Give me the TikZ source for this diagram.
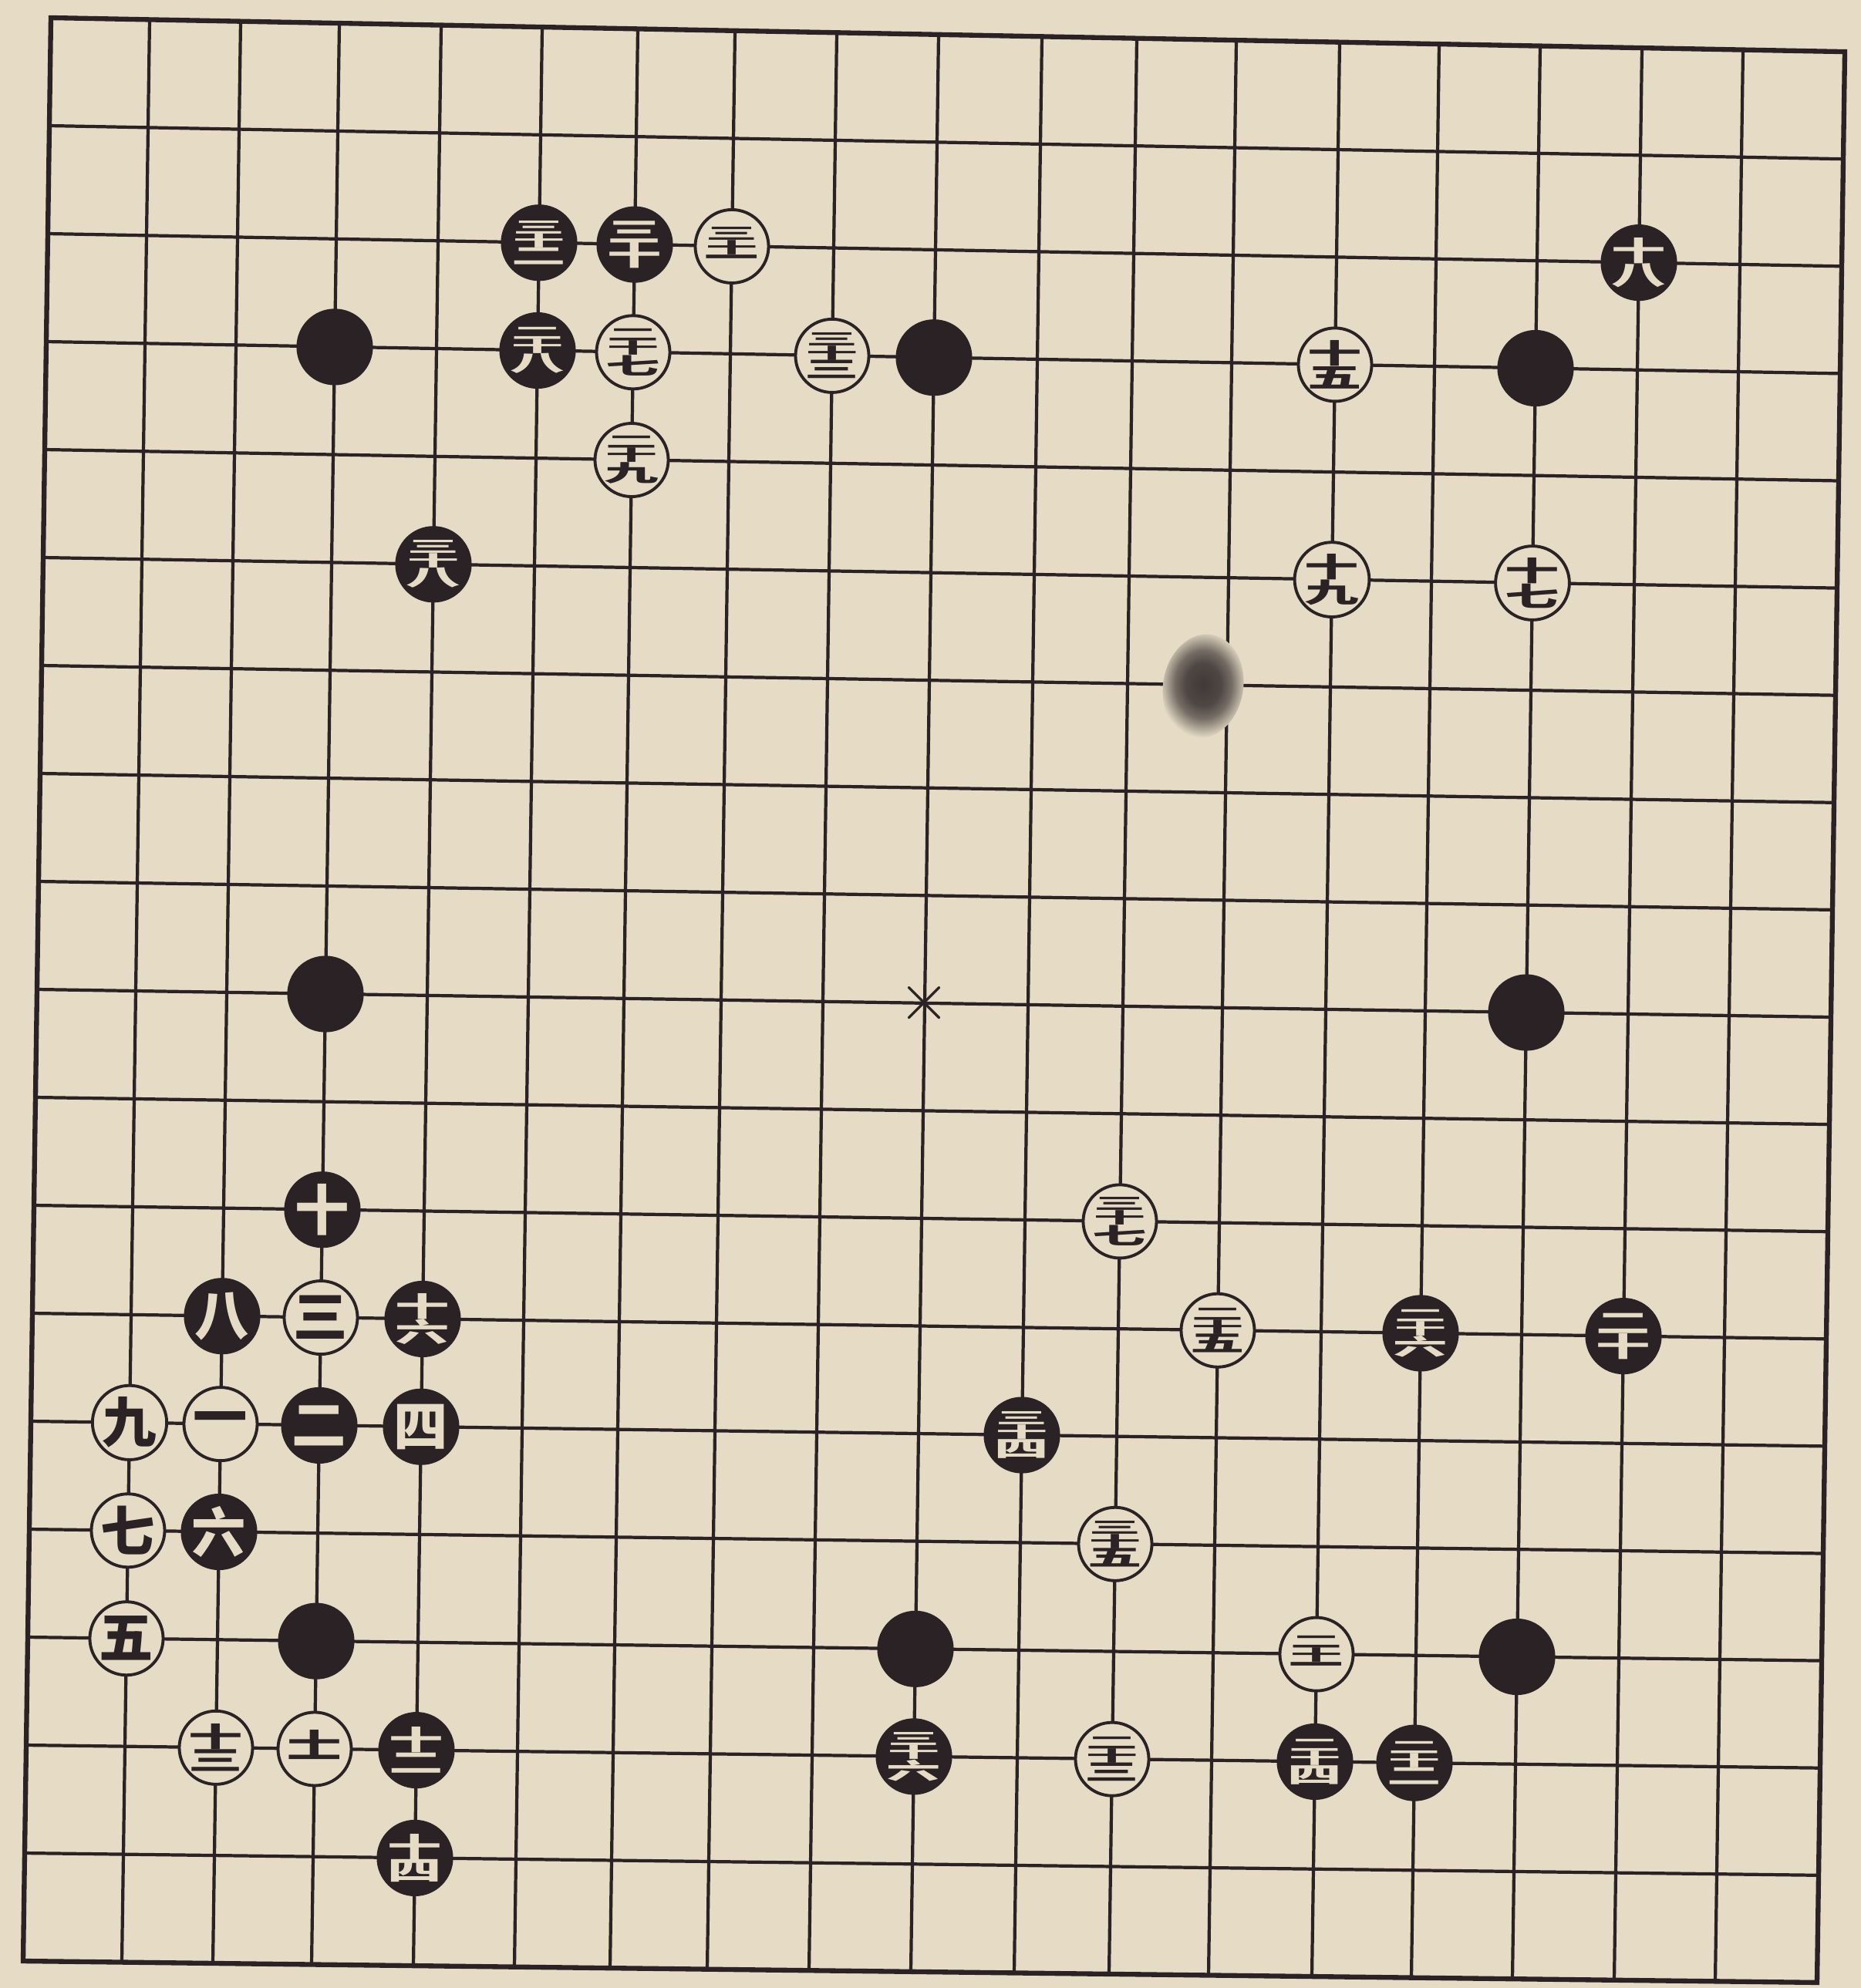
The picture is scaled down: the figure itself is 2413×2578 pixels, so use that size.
\documentclass[tikz,border=0pt]{standalone}
\usepackage{fontspec}
\usepackage{graphicx}
\newfontfamily\cjk{Noto Sans CJK SC}
\definecolor{paper}{HTML}{E6DCC6}
\definecolor{ink}{HTML}{2A2224}
\newcommand\lbl{\cjk\bfseries\fontsize{20pt}{20pt}\selectfont}
\newcommand\vst[1]{\vbox{\offinterlineskip\halign{\hfil##\hfil\cr#1}}}
\newcommand\nB[2]{\vst{\scalebox{1.0}[0.5]{#1}\cr\scalebox{1.0}[0.5]{#2}\cr}}
\newcommand\nC[3]{\vst{\scalebox{0.95}[0.3]{#1}\cr\scalebox{0.95}[0.28]{#2}\cr\scalebox{1.0}[0.42]{#3}\cr}}
\pgfdeclareradialshading{blot}{\pgfpoint{0bp}{0bp}}{%
  color(0bp)=(ink!88!paper); color(10bp)=(ink!80!paper); color(16bp)=(ink!60!paper);
  color(22bp)=(ink!20!paper); color(25bp)=(paper); color(50bp)=(paper)}
\tikzset{
  gridline/.style={line width=1.2pt, draw=ink},
  frame/.style={line width=1.8pt, draw=ink},
  bst/.style={circle, fill=ink, draw=ink, line width=0.6pt, minimum size=0.97cm, inner sep=0pt, text=paper, font=\lbl},
  wst/.style={circle, fill=paper, draw=ink, line width=1.1pt, minimum size=0.95cm, inner sep=0pt, text=ink, font=\lbl},
}
\begin{document}
\begin{tikzpicture}[x=0.01cm, y=0.01cm]
\fill[paper] (0,0) rectangle (2413,-2578);
\useasboundingbox (0,0) rectangle (2413,-2578);
% grid coordinates
\foreach \c in {1,...,19}{
  \foreach \r in {1,...,19}{
    \pgfmathsetmacro\gx{{66,194,312,440,572,703,827,953,1085,1217,1351,1474,1603,1737,1866,1997,2129,2260,2392}[\c-1]-2*(\r-1)}
    \pgfmathsetmacro\gy{-(23+140*(\r-1)+(2.5-0.05*\r)*(\c-1))}
    \coordinate (g-\c-\r) at (\gx,\gy);
  }
}
\foreach \c in {2,...,18} \draw[gridline] (g-\c-1) -- (g-\c-19);
\foreach \r in {2,...,18} \draw[gridline] (g-1-\r) -- (g-19-\r);
\draw[frame] (g-1-1) -- (g-19-1) -- (g-19-19) -- (g-1-19) -- cycle;
% ink blot
\shade[shading=blot, rotate around={-10:(1560,-890)}] (1560,-890) ellipse (52 and 68);
% centre mark
\node[text=ink, font=\fontsize{26pt}{26pt}\selectfont, inner sep=0pt] (tengen) at (g-10-10) {$\times$};
% handicap stones
\node[bst] (h1) at (g-4-4) {};
\node[bst] (h2) at (g-10-4) {};
\node[bst] (h3) at (g-16-4) {};
\node[bst] (h4) at (g-4-10) {};
\node[bst] (h5) at (g-16-10) {};
\node[bst] (h6) at (g-4-16) {};
\node[bst] (h7) at (g-10-16) {};
\node[bst] (h8) at (g-16-16) {};
% numbered moves
\node[wst] (m1) at (g-3-14) {一};
\node[bst] (m2) at (g-4-14) {二};
\node[wst] (m3) at (g-4-13) {三};
\node[bst] (m4) at (g-5-14) {四};
\node[wst] (m5) at (g-2-16) {五};
\node[bst] (m6) at (g-3-15) {六};
\node[wst] (m7) at (g-2-15) {七};
\node[bst] (m8) at (g-3-13) {八};
\node[wst] (m9) at (g-2-14) {九};
\node[bst] (m10) at (g-4-12) {十};
\node[wst] (m11) at (g-4-17) {\nB{十}{一}};
\node[bst] (m12) at (g-5-17) {\nB{十}{二}};
\node[wst] (m13) at (g-3-17) {\nB{十}{三}};
\node[bst] (m14) at (g-5-18) {\nB{十}{四}};
\node[wst] (m15) at (g-14-4) {\nB{十}{五}};
\node[bst] (m16) at (g-5-13) {\nB{十}{六}};
\node[wst] (m17) at (g-16-6) {\nB{十}{七}};
\node[bst] (m18) at (g-17-3) {\nB{十}{八}};
\node[wst] (m19) at (g-14-6) {\nB{十}{九}};
\node[bst] (m20) at (g-17-13) {\nB{二}{十}};
\node[wst] (m21) at (g-14-16) {\nC{二}{十}{一}};
\node[bst] (m22) at (g-15-17) {\nC{二}{十}{二}};
\node[wst] (m23) at (g-12-17) {\nC{二}{十}{三}};
\node[bst] (m24) at (g-14-17) {\nC{二}{十}{四}};
\node[wst] (m25) at (g-13-13) {\nC{二}{十}{五}};
\node[bst] (m26) at (g-15-13) {\nC{二}{十}{六}};
\node[wst] (m27) at (g-7-4) {\nC{二}{十}{七}};
\node[bst] (m28) at (g-6-4) {\nC{二}{十}{八}};
\node[wst] (m29) at (g-7-5) {\nC{二}{十}{九}};
\node[bst] (m30) at (g-7-3) {\nB{三}{十}};
\node[wst] (m31) at (g-8-3) {\nC{三}{十}{一}};
\node[bst] (m32) at (g-6-3) {\nC{三}{十}{二}};
\node[wst] (m33) at (g-9-4) {\nC{三}{十}{三}};
\node[bst] (m34) at (g-11-14) {\nC{三}{十}{四}};
\node[wst] (m35) at (g-12-15) {\nC{三}{十}{五}};
\node[bst] (m36) at (g-10-17) {\nC{三}{十}{六}};
\node[wst] (m37) at (g-12-12) {\nC{三}{十}{七}};
\node[bst] (m38) at (g-5-6) {\nC{三}{十}{八}};
\end{tikzpicture}
\end{document}
